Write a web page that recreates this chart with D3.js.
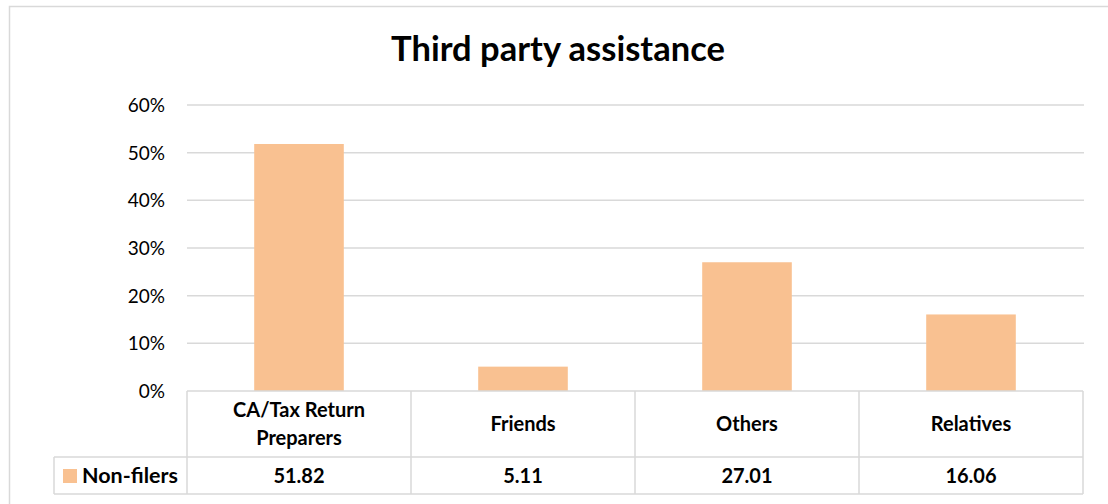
<!DOCTYPE html>
<html><head><meta charset="utf-8">
<script src="https://cdn.jsdelivr.net/npm/d3@7"></script>
<style>body{margin:0;background:#fff}svg{display:block}text{font-family:Lato,"Open Sans",sans-serif;fill:#000}</style>
</head><body>
<script>
const title = "Third party assistance";
const categories = ["CA/Tax Return Preparers", "Friends", "Others", "Relatives"];
const categoryLines = [["CA/Tax Return", "Preparers"], ["Friends"], ["Others"], ["Relatives"]];
const seriesName = "Non-filers";
const values = [51.82, 5.11, 27.01, 16.06];
const yTicks = [0, 10, 20, 30, 40, 50, 60];

const W = 1108, H = 504;
const svg = d3.select("body").append("svg").attr("width", W).attr("height", H);
const barColor = "#F9C191", gridColor = "#D9D9D9";

// outer chart border
svg.append("rect").attr("x", 9.5).attr("y", 6.5).attr("width", 1200).attr("height", 600)
  .attr("fill", "none").attr("stroke", gridColor).attr("stroke-width", 1.5);

const x = d3.scaleBand().domain(categories).range([187, 1083]).paddingInner(0.6).paddingOuter(0.3);
const xc = d3.scaleBand().domain(categories).range([187, 1083]).padding(0);
const y = d3.scaleLinear().domain([0, 60]).range([391, 105]);

svg.append("text").attr("x", 558).attr("y", 61).attr("text-anchor", "middle")
  .style("font-size", "34.5px").style("font-weight", "bold").text(title);

// gridlines
svg.append("g").selectAll("line").data(yTicks.filter(d => d > 0)).join("line")
  .attr("x1", 187).attr("x2", 1084).attr("y1", d => y(d)).attr("y2", d => y(d))
  .attr("stroke", gridColor).attr("stroke-width", 1.5);

// y axis labels
const yAxis = d3.axisLeft(y).tickValues(yTicks).tickFormat(d => d + "%").tickSize(0).tickPadding(0);
const ga = svg.append("g").attr("transform", "translate(165,0)").call(yAxis);
ga.select(".domain").remove();
ga.selectAll("text").style("font-size", "19px").style("font-family", "Lato").attr("fill", "#000").attr("dy", "0.35em");

// bars
svg.append("g").selectAll("rect").data(values).join("rect")
  .attr("x", (d, i) => x(categories[i])).attr("width", x.bandwidth())
  .attr("y", d => y(d)).attr("height", d => y(0) - y(d)).attr("fill", barColor);

// data table
const rowTop = 391, rowMid = 457, rowBot = 494, legLeft = 54;
const tg = svg.append("g").attr("fill", "none").attr("stroke", gridColor).attr("stroke-width", 1.5);
tg.append("line").attr("x1", 187).attr("x2", 1083).attr("y1", rowTop).attr("y2", rowTop);
tg.append("line").attr("x1", legLeft).attr("x2", 1083).attr("y1", rowMid).attr("y2", rowMid);
tg.append("line").attr("x1", legLeft).attr("x2", 1083).attr("y1", rowBot).attr("y2", rowBot);
tg.append("line").attr("x1", legLeft).attr("x2", legLeft).attr("y1", rowMid).attr("y2", rowBot);
const bounds = categories.map(c => xc(c)).concat([1083]);
tg.selectAll("line.v").data(bounds).join("line").attr("class", "v")
  .attr("x1", d => d).attr("x2", d => d).attr("y1", rowTop).attr("y2", rowBot);

// header labels
const hg = svg.append("g");
categories.forEach((c, i) => {
  const lines = categoryLines[i];
  const cx = xc(c) + xc.bandwidth() / 2;
  const cy = (rowTop + rowMid) / 2;
  const lh = 28;
  lines.forEach((l, j) => {
    hg.append("text").attr("x", cx).attr("y", cy + (j - (lines.length - 1) / 2) * lh)
      .attr("dy", "0.35em").attr("text-anchor", "middle")
      .style("font-size", "20px").style("font-weight", "bold").text(l);
  });
  hg.append("text").attr("x", cx).attr("y", (rowMid + rowBot) / 2).attr("dy", "0.35em")
    .attr("text-anchor", "middle").style("font-size", "20px").style("font-weight", "bold")
    .text(d3.format(".2f")(values[i]));
});

// legend
svg.append("rect").attr("x", 63).attr("y", 469).attr("width", 14).attr("height", 14).attr("fill", barColor);
svg.append("text").attr("x", 82).attr("y", (rowMid + rowBot) / 2).attr("dy", "0.35em")
  .style("font-size", "21.5px").style("font-weight", "bold").text(seriesName);
</script>
</body></html>
